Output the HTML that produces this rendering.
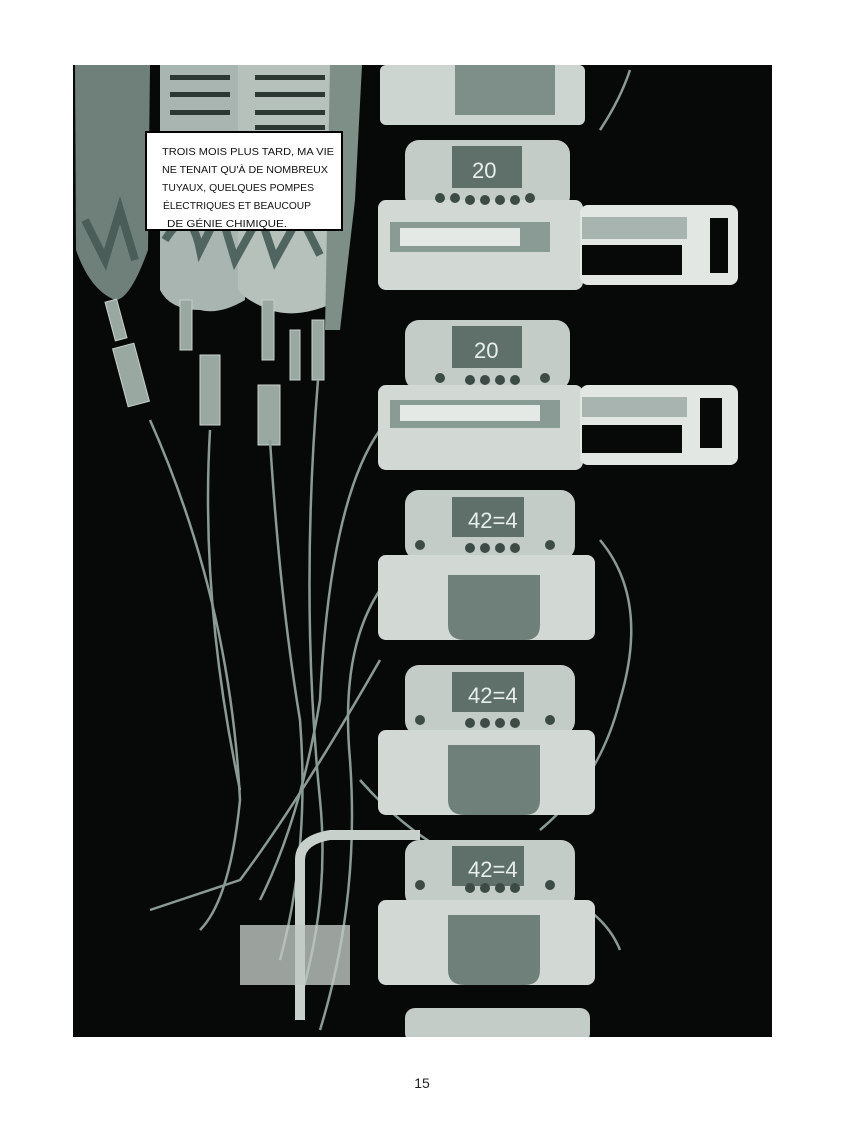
<!DOCTYPE html>
<html><head><meta charset="utf-8"><style>
html,body{margin:0;padding:0;background:#fff;width:844px;height:1125px;overflow:hidden}
svg{display:block}
</style></head><body>
<svg width="844" height="1125" viewBox="0 0 844 1125" xmlns="http://www.w3.org/2000/svg" font-family="Liberation Sans, sans-serif">
<rect x="0" y="0" width="844" height="1125" fill="#fff"/>
<rect x="73" y="65" width="699" height="972" fill="#070909"/>
<clipPath id="p"><rect x="73" y="65" width="699" height="972"/></clipPath>
<g clip-path="url(#p)">
<path d="M75 65 H150 L148 250 Q130 300 115 300 Q90 290 76 250 Z" fill="#6e8079"/>
<path d="M160 65 H245 V300 Q220 315 200 310 Q170 310 160 290 Z" fill="#a9b5b0"/>
<path d="M238 65 H340 V300 Q300 320 270 310 Q245 300 238 290 Z" fill="#b7c1bc"/>
<path d="M330 65 H362 L355 200 L340 330 H325 Z" fill="#7e8f88"/>
<g fill="#2c3834">
<rect x="170" y="75" width="60" height="5"/><rect x="170" y="92" width="60" height="5"/><rect x="170" y="110" width="60" height="5"/><rect x="255" y="75" width="70" height="5"/><rect x="255" y="92" width="70" height="5"/><rect x="255" y="110" width="70" height="5"/><rect x="255" y="125" width="70" height="5"/>
</g>
<path d="M165 240 Q190 200 200 250 L220 210 L235 260 L260 215 L275 260 L300 215 L320 255" stroke="#506560" stroke-width="8" fill="none"/>
<path d="M85 220 L105 260 L120 210 L135 260" stroke="#4a5d58" stroke-width="8" fill="none"/>
<g fill="#9aa8a2" stroke="#c8d0cc" stroke-width="1">
<rect x="110" y="300" width="12" height="40" transform="rotate(-15 116 320)"/>
<rect x="120" y="345" width="22" height="60" transform="rotate(-15 131 375)"/>
<rect x="180" y="300" width="12" height="50"/>
<rect x="200" y="355" width="20" height="70"/>
<rect x="262" y="300" width="12" height="60"/>
<rect x="258" y="385" width="22" height="60"/>
<rect x="290" y="330" width="10" height="50"/>
<rect x="312" y="320" width="12" height="60"/>
</g>
<g stroke="#8a9a94" stroke-width="2.5" fill="none">
<path d="M150 420 Q230 600 240 800 Q230 900 200 930"/>
<path d="M210 430 Q200 600 240 790"/>
<path d="M270 440 Q280 600 300 720 Q310 850 280 960"/>
<path d="M318 380 Q300 600 320 800 Q330 900 300 1000"/>
<path d="M380 430 Q330 500 320 700 Q300 820 260 900"/>
<path d="M600 130 Q620 100 630 70"/>
<path d="M600 540 Q650 600 620 700 Q600 780 540 830"/>
<path d="M380 660 Q300 800 240 880 Q180 900 150 910"/>
<path d="M360 780 Q430 860 520 880 Q600 900 620 950"/>
<path d="M380 590 Q340 650 350 760 Q360 900 320 1030"/>
</g>
<path d="M300 1020 V860 Q300 840 330 835 H420" stroke="#c8d0cc" stroke-width="10" fill="none"/>
<rect x="240" y="925" width="110" height="60" fill="#c0c9c4" opacity=".8"/>
<rect x="380" y="65" width="205" height="60" rx="6" fill="#cdd5d1"/>
<rect x="455" y="65" width="100" height="50" fill="#7e8e88"/>
<rect x="405" y="140" width="165" height="70" rx="14" fill="#c4ccc8"/>
<rect x="452" y="146" width="70" height="42" fill="#5f706a"/>
<text x="472" y="178" fill="#e8eeeb" font-size="22">20</text>
<rect x="378" y="200" width="205" height="90" rx="8" fill="#d2d9d5"/>
<rect x="390" y="222" width="160" height="30" fill="#8a9a94"/>
<rect x="400" y="228" width="120" height="18" fill="#e4e9e6"/>
<rect x="580" y="205" width="158" height="80" rx="8" fill="#e2e7e4"/>
<rect x="582" y="245" width="100" height="30" fill="#070909"/>
<rect x="710" y="218" width="18" height="55" fill="#070909"/>
<rect x="582" y="217" width="105" height="22" fill="#a8b4af"/>
<rect x="405" y="320" width="165" height="70" rx="14" fill="#c4ccc8"/>
<rect x="452" y="326" width="70" height="42" fill="#5f706a"/>
<text x="474" y="358" fill="#e8eeeb" font-size="22">20</text>
<rect x="378" y="385" width="205" height="85" rx="8" fill="#d2d9d5"/>
<rect x="390" y="400" width="170" height="28" fill="#8a9a94"/>
<rect x="400" y="405" width="140" height="16" fill="#e4e9e6"/>
<rect x="580" y="385" width="158" height="80" rx="8" fill="#e2e7e4"/>
<rect x="582" y="425" width="100" height="28" fill="#070909"/>
<rect x="700" y="398" width="22" height="50" fill="#070909"/>
<rect x="582" y="397" width="105" height="20" fill="#a8b4af"/>
<g>
<rect x="405" y="490" width="170" height="70" rx="14" fill="#c4ccc8"/>
<rect x="452" y="497" width="72" height="40" fill="#5f706a"/>
<text x="468" y="528" fill="#e8eeeb" font-size="22">42=4</text>
<rect x="378" y="555" width="217" height="85" rx="8" fill="#d2d9d5"/>
<path d="M448 575 H540 V625 Q540 640 525 640 H465 Q448 640 448 625 Z" fill="#6f807a"/>
</g>
<g>
<rect x="405" y="665" width="170" height="70" rx="14" fill="#c4ccc8"/>
<rect x="452" y="672" width="72" height="40" fill="#5f706a"/>
<text x="468" y="703" fill="#e8eeeb" font-size="22">42=4</text>
<rect x="378" y="730" width="217" height="85" rx="8" fill="#d2d9d5"/>
<path d="M448 745 H540 V800 Q540 815 525 815 H465 Q448 815 448 800 Z" fill="#6f807a"/>
</g>
<g>
<rect x="405" y="840" width="170" height="68" rx="14" fill="#c4ccc8"/>
<rect x="452" y="846" width="72" height="40" fill="#5f706a"/>
<text x="468" y="877" fill="#e8eeeb" font-size="22">42=4</text>
<rect x="378" y="900" width="217" height="85" rx="8" fill="#d2d9d5"/>
<path d="M448 915 H540 V970 Q540 985 525 985 H465 Q448 985 448 970 Z" fill="#6f807a"/>
</g>
<rect x="405" y="1008" width="185" height="35" rx="10" fill="#c4ccc8"/>
<g fill="#3d4b47">
<circle cx="440" cy="198" r="5"/><circle cx="455" cy="198" r="5"/><circle cx="470" cy="200" r="5"/><circle cx="485" cy="200" r="5"/><circle cx="500" cy="200" r="5"/><circle cx="515" cy="200" r="5"/><circle cx="530" cy="198" r="5"/>
<circle cx="440" cy="378" r="5"/><circle cx="470" cy="380" r="5"/><circle cx="485" cy="380" r="5"/><circle cx="500" cy="380" r="5"/><circle cx="515" cy="380" r="5"/><circle cx="545" cy="378" r="5"/>
<circle cx="420" cy="545" r="5"/><circle cx="470" cy="548" r="5"/><circle cx="485" cy="548" r="5"/><circle cx="500" cy="548" r="5"/><circle cx="515" cy="548" r="5"/><circle cx="550" cy="545" r="5"/>
<circle cx="420" cy="720" r="5"/><circle cx="470" cy="723" r="5"/><circle cx="485" cy="723" r="5"/><circle cx="500" cy="723" r="5"/><circle cx="515" cy="723" r="5"/><circle cx="550" cy="720" r="5"/>
<circle cx="420" cy="885" r="5"/><circle cx="470" cy="888" r="5"/><circle cx="485" cy="888" r="5"/><circle cx="500" cy="888" r="5"/><circle cx="515" cy="888" r="5"/><circle cx="550" cy="885" r="5"/>
</g>
</g>
<rect x="146" y="132" width="196" height="98" fill="#fff" stroke="#000" stroke-width="2"/>
<g font-size="10.5" fill="#111" font-family="Liberation Sans Narrow, Liberation Sans, sans-serif">
<text x="162" y="155" textLength="172" lengthAdjust="spacingAndGlyphs">TROIS MOIS PLUS TARD, MA VIE</text>
<text x="162" y="173" textLength="166" lengthAdjust="spacingAndGlyphs">NE TENAIT QU'À DE NOMBREUX</text>
<text x="162" y="191" textLength="152" lengthAdjust="spacingAndGlyphs">TUYAUX, QUELQUES POMPES</text>
<text x="163" y="209" textLength="148" lengthAdjust="spacingAndGlyphs">ÉLECTRIQUES ET BEAUCOUP</text>
<text x="167" y="227" textLength="120" lengthAdjust="spacingAndGlyphs">DE GÉNIE CHIMIQUE.</text>
</g>
<text x="422" y="1088" font-size="14" text-anchor="middle" fill="#222">15</text>
</svg>
</body></html>
